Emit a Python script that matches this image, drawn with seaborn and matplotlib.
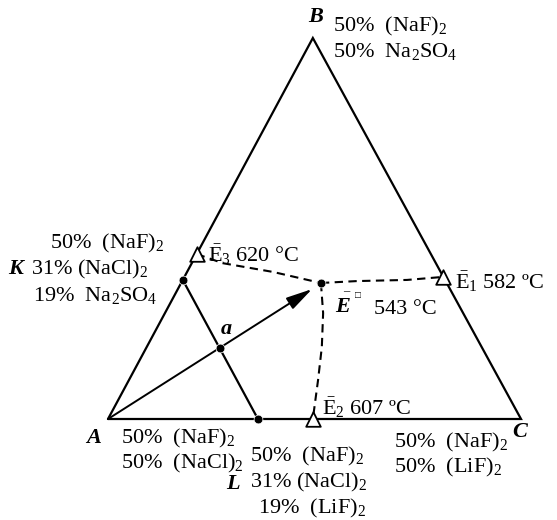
import numpy as np
import pandas as pd
import matplotlib
matplotlib.use("Agg")
import matplotlib.pyplot as plt
import seaborn as sns

# composiciones (fracciones B y C; A = 1 - B - C)
puntos = ["K", "L", "E", "a"]
frac_b = [0.365, 0.0, 0.357, 0.186]
frac_c = [0.0, 0.363, 0.3385, 0.179]

eutec = ["E3", "E1", "E2"]
eutec_b = [0.433, 0.373, 0.0]
eutec_c = [0.0, 0.627, 0.496]

# curvas de cristalizacion
curva_e3_b = [0.433, 0.409, 0.386, 0.357]
curva_e3_c = [0.0, 0.075, 0.208, 0.3385]
curva_e1_b = [0.357, 0.362, 0.365, 0.373]
curva_e1_c = [0.3385, 0.423, 0.543, 0.627]
curva_e2_b = [0.357, 0.278, 0.189, 0.102, 0.0]
curva_e2_c = [0.3385, 0.383, 0.424, 0.458, 0.496]

flecha_b = 0.341
flecha_c = 0.325

BX = 0.496  # posicion horizontal del vertice B


def cart(b, c):
    b = np.asarray(b, dtype=float)
    c = np.asarray(c, dtype=float)
    return c + b * BX, b


sns.set_style("white")
plt.rcParams["font.family"] = ["Liberation Serif", "DejaVu Serif"]
plt.rcParams["text.color"] = "black"
plt.rcParams["mathtext.fontset"] = "custom"
plt.rcParams["mathtext.rm"] = "Liberation Serif"
plt.rcParams["mathtext.it"] = "Liberation Serif:italic"
plt.rcParams["mathtext.bf"] = "Liberation Serif:bold"

fig = plt.figure(figsize=(5.57, 5.2), dpi=100)
ax = fig.add_axes([0, 0, 1, 1])
ax.set_xlim(-108 / 413, (557 - 108) / 413)
ax.set_ylim(-(520 - 419) / 381, 419 / 381)
ax.axis("off")

# triangulo
tx, ty = cart([0, 1, 0, 0], [0, 0, 1, 0])
ax.plot(tx, ty, color="black", lw=1.6, solid_joinstyle="miter")

# linea K-L
kx, ky = cart(frac_b[:2], frac_c[:2])
sns.lineplot(x=kx, y=ky, sort=False, color="black", lw=1.6, ax=ax)

# curvas discontinuas
for cb, cc in [(curva_e3_b, curva_e3_c), (curva_e1_b, curva_e1_c), (curva_e2_b, curva_e2_c)]:
    x, y = cart(cb, cc)
    sns.lineplot(x=x, y=y, sort=False, color="black", lw=1.5,
                 linestyle=(0, (4, 2.6)), ax=ax)

# flecha A -> E
fx, fy = cart(flecha_b, flecha_c)
ax.annotate("", xy=(fx, fy), xytext=(0, 0),
            arrowprops=dict(arrowstyle="-|>,head_length=0.8,head_width=0.2",
                            color="black", lw=1.4,
                            mutation_scale=20, shrinkA=0, shrinkB=0))

# puntos
px, py = cart(frac_b, frac_c)
df = pd.DataFrame({"x": px, "y": py, "p": puntos})
sns.scatterplot(data=df, x="x", y="y", color="black", s=40, zorder=5, ax=ax, legend=False)

ex, ey = cart(eutec_b, eutec_c)
dfe = pd.DataFrame({"x": ex, "y": ey, "p": eutec})
sns.scatterplot(data=dfe, x="x", y="y", marker="^", s=110, facecolor="white",
                edgecolor="black", linewidth=1.3, zorder=6, ax=ax, legend=False)

# textos
fs = 16


def px2d(x, y):
    return (x - 108) / 413, (419 - y) / 381


def txt(x, y, s, **kw):
    kw.setdefault("fontsize", fs)
    kw.setdefault("va", "center")
    ax.text(*px2d(x, y), s, **kw)


bi = dict(fontweight="bold", fontstyle="italic")

txt(316, 17, "B", ha="center", **bi)
txt(333, 26, r"50%  (NaF)$_2$")
txt(333, 52, r"50%  Na$_2$SO$_4$")

txt(50, 243, r"50%  (NaF)$_2$")
txt(8, 269, "K", **bi)
txt(31, 269, r"31% (NaCl)$_2$")
txt(33, 295, r"19%  Na$_2$SO$_4$")

txt(208, 255, r"$\bar{\mathrm{E}}_3$ 620 °C")
txt(455, 282, r"$\bar{\mathrm{E}}_1$ 582 ºC")
txt(322, 408, r"$\bar{\mathrm{E}}_2$ 607 ºC")
txt(335, 307, "E", **bi)
txt(346, 291, "\u2013", fontsize=9, ha="center", va="center")
txt(355, 296, "□", fontsize=7)
txt(374, 309, "543 °C")
txt(221, 329, "a", **bi)

txt(86, 438, "A", **bi)
txt(121, 438, r"50%  (NaF)$_2$")
txt(121, 463, r"50%  (NaCl)$_2$")

txt(250, 456, r"50%  (NaF)$_2$")
txt(226, 484, "L", **bi)
txt(250, 482, r"31% (NaCl)$_2$")
txt(258, 508, r"19%  (LiF)$_2$")

txt(394, 442, r"50%  (NaF)$_2$")
txt(512, 432, "C", **bi)
txt(394, 467, r"50%  (LiF)$_2$")

fig.savefig("out.png", dpi=100, facecolor="white")
